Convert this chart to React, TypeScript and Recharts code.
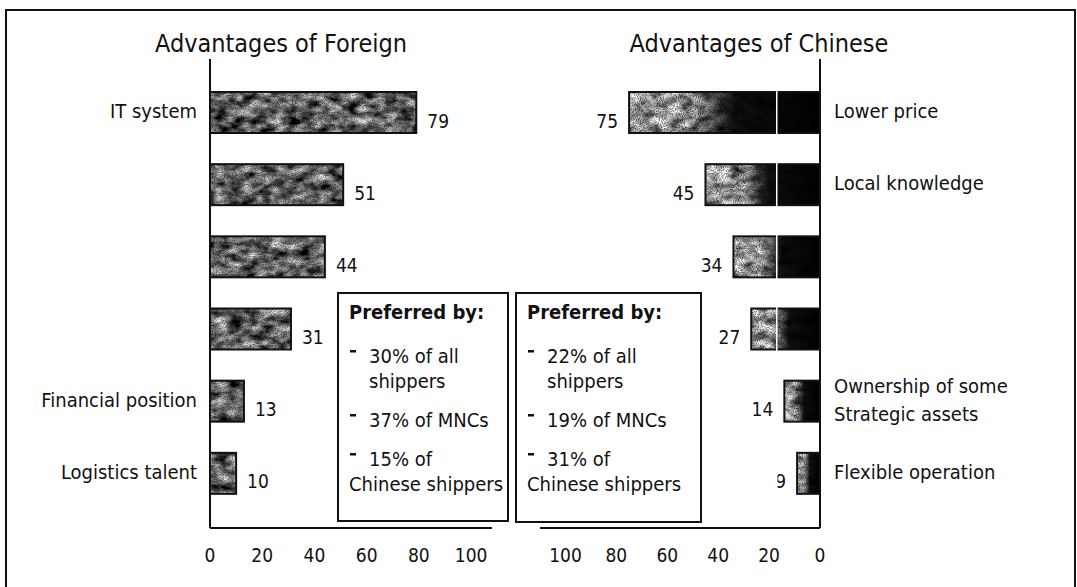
import React from "react";
import { BarChart, Bar, XAxis, YAxis, ReferenceLine } from "recharts";

// Survey scores: why shippers prefer foreign vs. Chinese logistics providers
const foreignLabels = ["IT system", "", "", "", "Financial position", "Logistics talent"];
const foreignValues = [79, 51, 44, 31, 13, 10];
const chineseLabels = ["Lower price", "Local knowledge", "", "", "Ownership of some\nStrategic assets", "Flexible operation"];
const chineseValues = [75, 45, 34, 27, 14, 9];
const axisTicks = [0, 20, 40, 60, 80, 100];

const foreignPreferredBy = [["30% of all", "shippers"], ["37% of MNCs"], ["15% of", "Chinese shippers"]];
const chinesePreferredBy = [["22% of all", "shippers"], ["19% of MNCs"], ["31% of", "Chinese shippers"]];

const FONT = "'DejaVu Sans Condensed', 'DejaVu Sans', sans-serif";
const INK = "#111";

const foreignData = foreignValues.map((value, i) => ({ key: `f${i}`, label: foreignLabels[i], value }));
const chineseData = chineseValues.map((value, i) => ({ key: `c${i}`, label: chineseLabels[i], value }));

function TextureDefs() {
  return (
    <defs>
      <filter id="marbleDark" x="0" y="0" width="1" height="1" colorInterpolationFilters="sRGB">
        <feTurbulence type="fractalNoise" baseFrequency="0.07 0.12" numOctaves="3" seed="4" result="n" />
        <feColorMatrix
          in="n"
          type="matrix"
          values="1.5 0 0 0 -0.32  1.5 0 0 0 -0.32  1.5 0 0 0 -0.32  0 0 0 0 1"
          result="g"
        />
        <feTurbulence type="fractalNoise" baseFrequency="0.9" numOctaves="1" seed="11" result="fine" />
        <feColorMatrix
          in="fine"
          type="matrix"
          values="1.8 0 0 0 0  1.8 0 0 0 0  1.8 0 0 0 0  0 0 0 0 1"
          result="grain"
        />
        <feBlend in="g" in2="grain" mode="multiply" result="tex" />
        <feComposite in="tex" in2="SourceGraphic" operator="in" />
      </filter>
      <filter id="marbleLight" x="0" y="0" width="1" height="1" colorInterpolationFilters="sRGB">
        <feTurbulence type="fractalNoise" baseFrequency="0.08 0.12" numOctaves="3" seed="7" result="n" />
        <feColorMatrix
          in="n"
          type="matrix"
          values="1.6 0 0 0 -0.12  1.6 0 0 0 -0.12  1.6 0 0 0 -0.12  0 0 0 0 1"
          result="g"
        />
        <feTurbulence type="fractalNoise" baseFrequency="0.95" numOctaves="1" seed="3" result="fine" />
        <feColorMatrix
          in="fine"
          type="matrix"
          values="1.7 0 0 0 0  1.7 0 0 0 0  1.7 0 0 0 0  0 0 0 0 1"
          result="grain"
        />
        <feBlend in="g" in2="grain" mode="multiply" result="tex" />
        <feComposite in="tex" in2="SourceGraphic" operator="in" />
      </filter>
      <linearGradient id="fadeToBlack" x1="0" y1="0" x2="1" y2="0">
        <stop offset="0.3" stopColor="#000" stopOpacity={0} />
        <stop offset="0.55" stopColor="#000" stopOpacity={0.92} />
        <stop offset="1" stopColor="#000" stopOpacity={1} />
      </linearGradient>
    </defs>
  );
}

// Bar with a marbled fill and its value printed just past the free end
function MarbleBar(props: any) {
  const { x, y, width, height, payload, side } = props;
  const left = Math.min(x, x + width);
  const w = Math.abs(width);
  const cy = y + height / 2;
  const isForeign = side === "foreign";
  return (
    <g>
      <rect x={left} y={y} width={w} height={height} fill="#fff" filter={isForeign ? "url(#marbleDark)" : "url(#marbleLight)"} />
      {!isForeign && <rect x={left} y={y} width={w} height={height} fill="url(#fadeToBlack)" />}
      <rect x={left} y={y} width={w} height={height} fill="none" stroke={INK} strokeWidth={2} />
      <text
        x={isForeign ? left + w + 11 : left - 11}
        y={cy + 15}
        textAnchor={isForeign ? "start" : "end"}
        fontFamily={FONT}
        fontSize={19}
        fill={INK}
      >
        {payload.value}
      </text>
    </g>
  );
}

function CategoryTick(props: any) {
  const { x, y, index, labels, anchor } = props;
  const lines = String(labels[index] ?? "").split("\n").filter(Boolean);
  return (
    <text x={x} textAnchor={anchor} fontFamily={FONT} fontSize={20} fill={INK}>
      {lines.map((line: string, i: number) => (
        <tspan key={i} x={x} y={y + 6 + (i - (lines.length - 1) / 2) * 28}>
          {line}
        </tspan>
      ))}
    </text>
  );
}

function PreferredBox({ x, y, w, h, items }: { x: number; y: number; w: number; h: number; items: string[][] }) {
  const rows: React.ReactNode[] = [];
  let base = y + 70;
  items.forEach((item, i) => {
    item.forEach((line, j) => {
      const indent = j === 0 || line.length <= 12;
      if (j === 0) {
        rows.push(
          <rect key={`d${i}`} x={x + 12} y={base - 13} width={6} height={2.5} fill={INK} />
        );
      }
      rows.push(
        <text key={`t${i}-${j}`} x={indent ? x + 31 : x + 11} y={base} fontSize={20} fill={INK}>
          {line}
        </text>
      );
      base += j < item.length - 1 ? 25 : 39;
    });
  });
  return (
    <g fontFamily={FONT}>
      <rect x={x} y={y} width={w} height={h} fill="#fff" stroke={INK} strokeWidth={2} />
      <text x={x + 11} y={y + 26} fontSize={20} fontWeight="bold" fill={INK}>
        Preferred by:
      </text>
      {rows}
    </g>
  );
}

export default function App() {
  const axisLine = { stroke: INK, strokeWidth: 2 };
  const tickStyle = { fill: INK, fontSize: 19, fontFamily: FONT };
  return (
    <div style={{ position: "fixed", left: 0, top: 0, width: 1077, height: 587, overflow: "hidden", background: "#fff" }}>
      <svg width={0} height={0} style={{ position: "absolute" }}>
        <TextureDefs />
      </svg>

      <div style={{ position: "absolute", left: 0, top: 0 }}>
        <BarChart width={530} height={587} layout="vertical" data={foreignData} margin={{ top: 59, right: 38, bottom: 19, left: 0 }} barSize={41}>
          <XAxis type="number" domain={[0, 108]} ticks={axisTicks} axisLine={axisLine} tickLine={false} tick={tickStyle} tickMargin={15} height={40} />
          <YAxis
            type="category"
            dataKey="key"
            width={210}
            axisLine={axisLine}
            tickLine={false}
            tickMargin={7}
            padding={{ top: 17, bottom: 19 }}
            tick={<CategoryTick labels={foreignLabels} anchor="end" />}
          />
          <Bar dataKey="value" isAnimationActive={false} shape={<MarbleBar side="foreign" />} />
        </BarChart>
      </div>

      <div style={{ position: "absolute", left: 530, top: 0 }}>
        <BarChart width={547} height={587} layout="vertical" data={chineseData} margin={{ top: 59, right: 0, bottom: 19, left: 10 }} barSize={41}>
          <XAxis type="number" reversed domain={[0, 110]} ticks={axisTicks} axisLine={axisLine} tickLine={false} tick={tickStyle} tickMargin={15} height={40} />
          <YAxis
            type="category"
            dataKey="key"
            orientation="right"
            width={257}
            axisLine={axisLine}
            tickLine={false}
            tickMargin={8}
            padding={{ top: 17, bottom: 19 }}
            tick={<CategoryTick labels={chineseLabels} anchor="start" />}
          />
          <Bar dataKey="value" isAnimationActive={false} shape={<MarbleBar side="chinese" />} />
          <ReferenceLine x={17} stroke="#fff" strokeWidth={1.5} />
        </BarChart>
      </div>

      <svg width={1077} height={587} style={{ position: "absolute", left: 0, top: 0, pointerEvents: "none" }}>
        <rect x={6} y={10} width={1069} height={620} fill="none" stroke={INK} strokeWidth={2} />
        <text x={281} y={52} textAnchor="middle" fontFamily={FONT} fontSize={25} fill={INK}>
          Advantages of Foreign
        </text>
        <text x={759} y={52} textAnchor="middle" fontFamily={FONT} fontSize={25} fill={INK}>
          Advantages of Chinese
        </text>
        <PreferredBox x={338} y={293} w={170} h={228} items={foreignPreferredBy} />
        <PreferredBox x={516} y={293} w={185} h={229} items={chinesePreferredBy} />
      </svg>
    </div>
  );
}
